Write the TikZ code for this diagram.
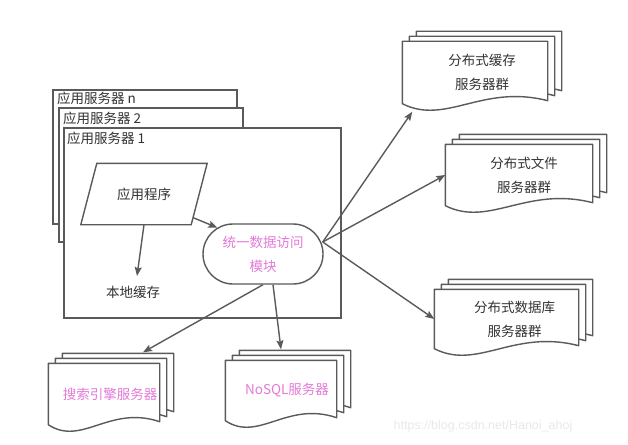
\documentclass[tikz,border=0pt]{standalone}
\usepackage{fontspec}
\setmainfont{Noto Sans CJK SC}
\newfontfamily\urlfont{Liberation Sans}
\usetikzlibrary{arrows.meta, positioning, shapes.misc, calc, backgrounds}
\definecolor{cline}{HTML}{5A5A5A}
\definecolor{ctext}{HTML}{333333}
\definecolor{cpink}{HTML}{E37AD8}
\tikzset{
  every picture/.style={line width=1.4pt},
  txt/.style={font=\fontsize{13.5}{24}\selectfont, text=ctext, align=center, inner sep=0pt},
  pinktxt/.style={txt, text=cpink},
  srvbox/.style={draw=cline, fill=white, rectangle, inner sep=0pt},
  docbox/.style={rectangle, inner sep=0pt},
  layer/.style={draw=cline, fill=white, line width=1.4pt, line join=round},
  arrow/.style={-{Stealth[length=9pt, width=7pt, inset=1.5pt]}, draw=cline},
}
% three sheets with a wavy bottom, behind node #1
\newcommand\docstack[1]{%
  \begin{scope}[on background layer]
  \foreach \k in {2,1,0}{%
    \draw[layer] let \p1=(#1.south west), \p2=(#1.north east),
        \n1={7*\k}, \n2={5*\k}, \n3={\x2-\x1} in
      (\x1+\n1pt, \y2+\n2pt) -- (\x2+\n1pt, \y2+\n2pt) -- (\x2+\n1pt, \y1+\n2pt+3pt)
      .. controls (\x1+\n1pt+0.55*\n3, \y1+\n2pt+20pt) and (\x1+\n1pt+0.3*\n3, \y1+\n2pt-22pt)
      .. (\x1+\n1pt, \y1+\n2pt) -- cycle;
  }
  \end{scope}}

\begin{document}
\begin{tikzpicture}[x=1pt, y=-1pt]
  \useasboundingbox (0,0) rectangle (628,444);

  % application servers
  \node[srvbox, minimum width=184pt, minimum height=134pt] (srvn) at (145,157) {};
  \node[txt, anchor=west] (tn) at ([xshift=4pt, yshift=-9pt]srvn.north west) {应用服务器 n};
  \node[srvbox, minimum width=184pt, minimum height=134pt] (srv2) at (151,175) {};
  \node[txt, anchor=west] (t2) at ([xshift=4pt, yshift=-11pt]srv2.north west) {应用服务器 2};
  \node[srvbox, minimum width=277pt, minimum height=190pt] (srv1) at (202.5,223) {};
  \node[txt, anchor=west] (t1) at ([xshift=3pt, yshift=-11pt]srv1.north west) {应用服务器 1};

  \node[txt, minimum width=109pt, minimum height=60pt] (prog) at (144,194) {应用程序};
  \draw[cline] ([xshift=8pt]prog.north west) -- ([xshift=8pt]prog.north east)
    -- ([xshift=-8pt]prog.south east) -- ([xshift=-8pt]prog.south west) -- cycle;
  \node[txt] (local) at (133,292) {本地缓存};
  \node[pinktxt, draw=cline, rounded rectangle, minimum width=120pt, minimum height=60pt] (module) at (263,254) {统一数据访问\\模块};

  % server groups
  \node[docbox, minimum width=144pt, minimum height=61pt] (cache) at (475,72.5) {};
  \node[txt] (cachelbl) at ([xshift=7pt]cache.center) {分布式缓存\\服务器群};
  \docstack{cache}
  \node[docbox, minimum width=146pt, minimum height=60pt] (file) at (519,175) {};
  \node[txt] (filelbl) at ([xshift=5pt]file.center) {分布式文件\\服务器群};
  \docstack{file}
  \node[docbox, minimum width=143pt, minimum height=58pt] (db) at (506.5,319) {};
  \node[txt] (dblbl) at ([xshift=8pt]db.center) {分布式数据库\\服务器群};
  \docstack{db}
  \node[docbox, minimum width=110pt, minimum height=60pt] (search) at (104,394) {};
  \node[pinktxt] (searchlbl) at ([xshift=6pt]search.center) {搜索引擎服务器};
  \docstack{search}
  \node[docbox, minimum width=110pt, minimum height=59pt] (nosql) at (281,390.5) {};
  \node[pinktxt] (nosqllbl) at ([xshift=6pt]nosql.center) {NoSQL服务器};
  \docstack{nosql}

  % connectors
  \coordinate (hub) at ([xshift=-1pt, yshift=12pt]module.east);
  \draw[arrow] (prog.south) -- ([xshift=4pt, yshift=9pt]local.north);
  \draw[arrow] ([xshift=-6pt, yshift=7pt]prog.south east) -- (module.150);
  \draw[arrow] (hub) -- ([xshift=10pt, yshift=-8pt]cache.south west);
  \draw[arrow] (hub) -- (file.west);
  \draw[arrow] (hub) -- (db.west);
  \draw[arrow] (module.south) -- ([xshift=39pt, yshift=11pt]search.north);
  \draw[arrow] ([xshift=10pt]module.south) -- ([yshift=11pt]nosql.north);

  \node[font=\urlfont\fontsize{12.5}{14}\selectfont, text=black!9, anchor=west, inner sep=0pt] (mark) at (393,426) {https://blog.csdn.net/Hanoi\_ahoj};
\end{tikzpicture}
\end{document}
